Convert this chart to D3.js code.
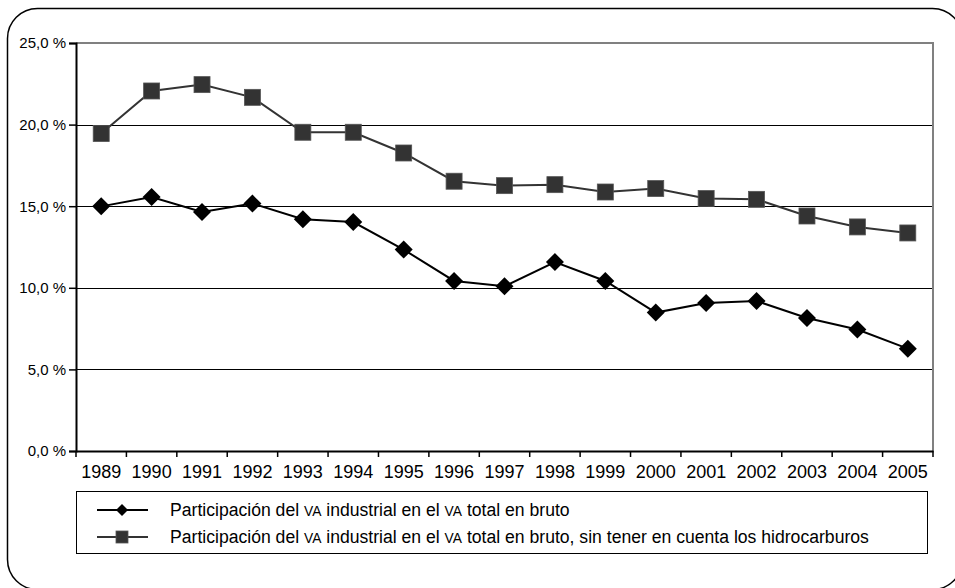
<!DOCTYPE html>
<meta charset="utf-8">
<style>
body { margin:0; background:#fff; }
svg text { font-family: "Liberation Sans", Arial, sans-serif; fill:#000; }
</style>
<body>
<svg width="955" height="588" id="vis"></svg>
</body>
<script src="https://d3js.org/d3.v7.min.js"></script>
<script>
var years = ["1989","1990","1991","1992","1993","1994","1995","1996","1997","1998","1999","2000","2001","2002","2003","2004","2005"];
var vaTotal = [14.99,15.56,14.64,15.16,14.20,14.03,12.34,10.42,10.09,11.58,10.42,8.48,9.07,9.19,8.15,7.44,6.27];
var vaSinHidro = [19.45,22.06,22.45,21.67,19.53,19.53,18.26,16.53,16.26,16.32,15.87,16.08,15.47,15.42,14.40,13.73,13.36];
var yTicks = [0,5,10,15,20,25];
var legendLabels = [
  ["Participación del ","VA"," industrial en el ","VA"," total en bruto"],
  ["Participación del ","VA"," industrial en el ","VA"," total en bruto, sin tener en cuenta los hidrocarburos"]
];

var svg = d3.select("svg"),
    margin = {top: 43, right: 22, bottom: 137, left: 76},
    width = 933 - margin.left,
    height = 451 - margin.top;

// outer rounded frame
svg.append("rect")
    .attr("x", 7.5).attr("y", 8.5)
    .attr("width", 955).attr("height", 581)
    .attr("rx", 30).attr("ry", 30)
    .attr("fill", "none").attr("stroke", "#000").attr("stroke-width", 1.5);

var g = svg.append("g")
    .attr("transform", "translate(" + margin.left + "," + margin.top + ")");

var x = d3.scaleBand().domain(years).range([0, width]);
var y = d3.scaleLinear().domain([0, 25]).range([height, 0]);

// gridlines
g.selectAll(".grid").data(yTicks.slice(1)).enter().append("line")
    .attr("class", "grid")
    .attr("x1", 0).attr("x2", width)
    .attr("y1", function(d){ return Math.round(y(d)) + 0.5; })
    .attr("y2", function(d){ return Math.round(y(d)) + 0.5; })
    .attr("stroke", "#000").attr("stroke-width", 1);

// plot border top/right
g.append("path")
    .attr("d", "M0,0H" + width + "V" + height)
    .attr("fill", "none").attr("stroke", "#808080").attr("stroke-width", 2);

// y axis
var yaxis = g.append("g")
    .call(d3.axisLeft(y).tickValues(yTicks).tickSize(7).tickPadding(3)
      .tickFormat(function(d){ return d3.format(".1f")(d).replace(".", ",") + " %"; }));
yaxis.select(".domain").attr("stroke", "#000").attr("stroke-width", 2);
yaxis.selectAll(".tick line").attr("stroke", "#000").attr("stroke-width", 1.5);
yaxis.selectAll("text").style("font-size", "15px");

// x axis with ticks at category boundaries
var xaxis = g.append("g")
    .attr("transform", "translate(0," + height + ")")
    .call(d3.axisBottom(x).tickSize(0).tickPadding(14));
xaxis.select(".domain").attr("stroke", "#000").attr("stroke-width", 2);
xaxis.selectAll("text").style("font-size", "18px");
xaxis.selectAll(".bound").data(years.concat(["end"])).enter().append("line")
    .attr("class", "bound")
    .attr("x1", function(d, i){ return i * x.bandwidth(); })
    .attr("x2", function(d, i){ return i * x.bandwidth(); })
    .attr("y1", 0).attr("y2", 6)
    .attr("stroke", "#000").attr("stroke-width", 1.5);

function cx(d, i){ return x(years[i]) + x.bandwidth() / 2; }

var line = d3.line()
    .x(function(d, i){ return cx(d, i); })
    .y(function(d){ return y(d); });

// square series
g.append("path").datum(vaSinHidro)
    .attr("d", line).attr("fill", "none")
    .attr("stroke", "#333").attr("stroke-width", 2);
g.selectAll(".sq").data(vaSinHidro).enter().append("rect")
    .attr("class", "sq")
    .attr("x", function(d, i){ return cx(d, i) - 8; })
    .attr("y", function(d){ return y(d) - 8; })
    .attr("width", 16).attr("height", 16)
    .attr("fill", "#333").attr("stroke", "#555").attr("stroke-width", 0.8);

// diamond series
g.append("path").datum(vaTotal)
    .attr("d", line).attr("fill", "none")
    .attr("stroke", "#000").attr("stroke-width", 2);
g.selectAll(".dm").data(vaTotal).enter().append("path")
    .attr("class", "dm")
    .attr("d", function(d, i){
      var px = cx(d, i), py = y(d), r = 9;
      return "M" + px + "," + (py - r) + "L" + (px + r) + "," + py + "L" + px + "," + (py + r) + "L" + (px - r) + "," + py + "Z";
    })
    .attr("fill", "#000");

// legend
var legend = svg.append("g");
legend.append("rect")
    .attr("x", 76.5).attr("y", 491.5).attr("width", 851).attr("height", 62)
    .attr("fill", "#fff").attr("stroke", "#000").attr("stroke-width", 1);

var rows = legend.selectAll(".row").data(legendLabels).enter().append("g")
    .attr("class", "row")
    .attr("transform", function(d, i){ return "translate(0," + (510 + i * 27) + ")"; });

rows.append("line")
    .attr("x1", 97).attr("x2", 148).attr("y1", 0).attr("y2", 0)
    .attr("stroke", function(d, i){ return i ? "#333" : "#000"; })
    .attr("stroke-width", 2);
rows.each(function(d, i){
  var r = d3.select(this);
  if (i === 0) {
    r.append("path").attr("d", "M122,-6L128,0L122,6L116,0Z").attr("fill", "#000");
  } else {
    r.append("rect").attr("x", 116).attr("y", -6).attr("width", 12).attr("height", 12)
      .attr("fill", "#333").attr("stroke", "#555").attr("stroke-width", 0.8);
  }
});
var lt = rows.append("text")
    .attr("x", 170).attr("y", 0).attr("dy", "0.36em")
    .style("font-size", "17.6px");
lt.selectAll("tspan").data(function(d){ return d; }).enter().append("tspan")
    .style("font-size", function(d){ return d === "VA" ? "13.8px" : "17.6px"; })
    .text(function(d){ return d; });
</script>
